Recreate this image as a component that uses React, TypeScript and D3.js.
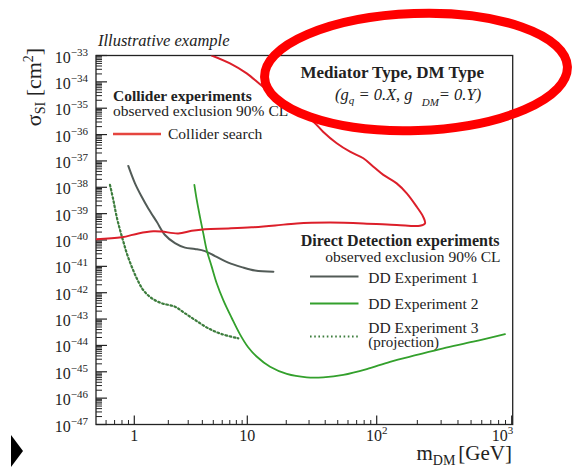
import React from "react";
import * as d3 from "d3";

// Collider search exclusion contour (mass in GeV, cross-section in cm^2)
const colliderMass = [0.5, 0.796, 1.085, 1.473, 1.748, 2.45, 3.22, 4.22, 6.79, 10.8, 16.4, 24.1, 43.6, 78.8, 140.6, 209, 228, 221, 198, 167, 140.6, 112, 94.3, 78.8, 62.2, 49.1, 38.5, 32.4, 24.2, 17.9, 13.2, 9.88, 7.03, 4.84];
const colliderSigma = [1.07e-40, 1.26e-40, 1.78e-40, 2.14e-40, 2.09e-40, 1.78e-40, 2.24e-40, 2.57e-40, 2.75e-40, 3.02e-40, 3.55e-40, 4.27e-40, 4.57e-40, 4.27e-40, 3.72e-40, 3.47e-40, 4.27e-40, 7.59e-40, 1.82e-39, 5.89e-39, 1.41e-38, 2.95e-38, 6.03e-38, 1.26e-37, 2.24e-37, 4.68e-37, 1.29e-36, 3.09e-36, 8.51e-36, 2.45e-35, 6.61e-35, 2.09e-34, 5.01e-34, 1.0e-33];

// DD Experiment 1
const dd1Mass = [0.897, 1.014, 1.163, 1.33, 1.58, 1.87, 2.29, 2.81, 3.44, 4.22, 5.18, 6.79, 8.92, 11.47, 15.9];
const dd1Sigma = [6.46e-38, 1.41e-38, 4.37e-39, 1.58e-39, 4.9e-40, 1.55e-40, 7.59e-41, 5.13e-41, 4.57e-41, 3.8e-41, 2.45e-41, 1.38e-41, 9.33e-42, 6.92e-42, 6.31e-42];

// DD Experiment 2
const dd2Mass = [3.4, 3.57, 3.81, 4.08, 4.37, 4.84, 5.36, 6.13, 7.28, 8.62, 10.12, 11.8, 15.0, 20.2, 28.8, 38.6, 55.2, 83.8, 125.5, 198, 311, 519, 892];
const dd2Sigma = [1.23e-38, 3.31e-39, 7.59e-40, 1.78e-40, 4.17e-41, 9.77e-42, 2.29e-42, 5.25e-43, 1.1e-43, 2.63e-44, 8.71e-45, 3.8e-45, 1.55e-45, 8.32e-46, 6.17e-46, 6.17e-46, 7.59e-46, 1.26e-45, 2.4e-45, 4.37e-45, 7.76e-45, 1.38e-44, 2.69e-44];

// DD Experiment 3 (projection)
const dd3Mass = [0.644, 0.684, 0.727, 0.772, 0.82, 0.872, 0.954, 1.05, 1.2, 1.426, 1.748, 2.29, 2.81, 3.44, 4.52, 5.94, 8.32];
const dd3Sigma = [1.23e-38, 3.31e-39, 7.59e-40, 2.4e-40, 8.71e-41, 3.16e-41, 9.77e-42, 3.55e-42, 1.26e-42, 6.17e-43, 3.98e-43, 2.95e-43, 1.66e-43, 9.33e-44, 4.47e-44, 2.69e-44, 1.86e-44];

// Axis ticks
const yExponents = d3.range(-47, -32);
const xMajor = [1, 10, 100, 1000];
const xMajorLabels = [["1", ""], ["10", ""], ["10", "2"], ["10", "3"]];
const xMinor = [0.6, 0.7, 0.8, 0.9, 2, 3, 4, 5, 6, 7, 8, 9, 20, 30, 40, 50, 60, 70, 80, 90, 200, 300, 400, 500, 600, 700, 800, 900];

const RED = "#dc1f2a";
const GREY = "#525b57";
const GREEN = "#33a02c";
const DOTGREEN = "#3d7d3d";
const SERIF = "'Liberation Serif', 'Times New Roman', serif";

const left = 96, right = 512.7, top = 55.5, bottom = 424.5;

const x = d3.scaleLog().domain([0.5, 1, 10, 100, 1000]).range([left, 134.3, 247.3, 376.7, 511.7]);
const y = d3.scaleLog().domain([1e-47, 1e-33]).range([bottom, top]);

type Pt = { m: number; s: number };
const zip = (ms: number[], ss: number[]): Pt[] => ms.map((m, i) => ({ m, s: ss[i] }));

const line = d3
  .line<Pt>()
  .x((d) => x(d.m))
  .y((d) => y(d.s))
  .curve(d3.curveCatmullRom.alpha(0.5));

export default function App() {
  const yMinor: number[] = [];
  for (let e = -47; e < -33; e++) {
    for (let k = 2; k <= 9; k++) yMinor.push(k * Math.pow(10, e));
  }

  return (
    <svg
      width={572}
      height={474}
      style={{ position: "fixed", left: 0, top: 0, background: "#fff" }}
      fontFamily={SERIF}
    >
      <defs>
        <clipPath id="plot">
          <rect x={left} y={top} width={right - left} height={bottom - top} />
        </clipPath>
      </defs>

      {/* frame */}
      <rect x={left} y={top} width={right - left} height={bottom - top} fill="none" stroke="#222" strokeWidth={1.3} />

      {/* y ticks */}
      {yExponents.map((e) => (
        <line key={"ym" + e} x1={left} x2={left + 11} y1={y(Math.pow(10, e))} y2={y(Math.pow(10, e))} stroke="#222" strokeWidth={1.2} />
      ))}
      {yMinor.map((v, i) => (
        <line key={"yn" + i} x1={left} x2={left + 6} y1={y(v)} y2={y(v)} stroke="#222" strokeWidth={1} />
      ))}
      {yExponents.map((e) => (
        <text key={"yl" + e} x={88} y={y(Math.pow(10, e)) + 7} textAnchor="end" fontSize={16} fill="#222">
          10
          <tspan dy={-7} fontSize={11}>
            {"\u2212" + Math.abs(e)}
          </tspan>
        </text>
      ))}

      {/* x ticks */}
      {xMajor.map((v) => (
        <line key={"xm" + v} x1={x(v)} x2={x(v)} y1={bottom} y2={bottom - 9} stroke="#222" strokeWidth={1.2} />
      ))}
      {xMinor.map((v) => (
        <line key={"xn" + v} x1={x(v)} x2={x(v)} y1={bottom} y2={bottom - 4.5} stroke="#222" strokeWidth={1} />
      ))}
      {xMajor.map((v, i) => {
        const last = i === xMajor.length - 1;
        return (
          <text
            key={"xl" + v}
            x={last ? x(v) + 1.5 : x(v)}
            y={441}
            textAnchor={last ? "end" : "middle"}
            fontSize={16}
            fill="#222"
          >
            {xMajorLabels[i][0]}
            {xMajorLabels[i][1] && (
              <tspan dy={-7} fontSize={11}>
                {xMajorLabels[i][1]}
              </tspan>
            )}
          </text>
        );
      })}

      {/* axis titles */}
      <text transform="translate(41,87) rotate(-90)" textAnchor="middle" fontSize={22} fill="#222">
        σ
        <tspan fontSize={14} dy={4}>SI</tspan>
        <tspan dy={-4}> [cm</tspan>
        <tspan fontSize={14} dy={-8}>2</tspan>
        <tspan dy={8}>]</tspan>
      </text>
      <text x={512} y={460} textAnchor="end" fontSize={21} fill="#222">
        m
        <tspan fontSize={14} dy={5}>DM</tspan>
        <tspan dy={-5} dx={3}>[GeV]</tspan>
      </text>

      <text x={98} y={46} fontSize={16.5} fontStyle="italic" fill="#222">
        Illustrative example
      </text>

      {/* curves */}
      <g clipPath="url(#plot)" fill="none" strokeLinejoin="round" strokeLinecap="round">
        <path d={line(zip(dd3Mass, dd3Sigma)) ?? ""} stroke={DOTGREEN} strokeWidth={2.2} strokeDasharray="1.6,2.6" />
        <path d={line(zip(dd1Mass, dd1Sigma)) ?? ""} stroke={GREY} strokeWidth={2} />
        <path d={line(zip(dd2Mass, dd2Sigma)) ?? ""} stroke={GREEN} strokeWidth={1.8} />
        <path d={line(zip(colliderMass, colliderSigma)) ?? ""} stroke={RED} strokeWidth={2} />
      </g>

      {/* collider legend */}
      <text x={113} y={100.5} fontSize={15.5} fontWeight="bold" fill="#222">
        Collider experiments
      </text>
      <text x={113} y={116} fontSize={15.5} fill="#222">
        observed exclusion 90% CL
      </text>
      <line x1={113} x2={161} y1={134} y2={134} stroke="#e5453f" strokeWidth={2.5} />
      <text x={168} y={139} fontSize={15.5} fill="#222">
        Collider search
      </text>

      {/* direct detection legend */}
      <text x={499.5} y={246} fontSize={16} fontWeight="bold" textAnchor="end" fill="#222">
        Direct Detection experiments
      </text>
      <text x={500.5} y={261.5} fontSize={15.5} textAnchor="end" fill="#222">
        observed exclusion 90% CL
      </text>
      <line x1={310} x2={358.5} y1={276.5} y2={276.5} stroke={GREY} strokeWidth={2} />
      <text x={368.3} y={282.5} fontSize={15.5} fill="#222">DD Experiment 1</text>
      <line x1={310} x2={358.5} y1={303.5} y2={303.5} stroke={GREEN} strokeWidth={2} />
      <text x={368.3} y={308.5} fontSize={15.5} fill="#222">DD Experiment 2</text>
      <line x1={310} x2={358.5} y1={336.5} y2={336.5} stroke={DOTGREEN} strokeWidth={2.2} strokeDasharray="1.6,2.6" />
      <text x={368.3} y={332.5} fontSize={15.5} fill="#222">DD Experiment 3</text>
      <text x={368.3} y={346.5} fontSize={15} fill="#222">(projection)</text>

      {/* model label */}
      <text x={300.5} y={77.5} fontSize={17} fontWeight="bold" fill="#222">
        Mediator Type, DM Type
      </text>
      <text x={335} y={100} fontSize={16.5} fontStyle="italic" fill="#222">
        (g
        <tspan fontSize={11} dy={4}>q</tspan>
        <tspan dy={-4}> = 0.X, g </tspan>
        <tspan fontSize={11} dy={6} dx={5}>DM</tspan>
        <tspan dy={-6}>= 0.Y)</tspan>
      </text>

      {/* highlight ring */}
      <ellipse cx={416} cy={72} rx={151.5} ry={58.5} fill="none" stroke="#ff0000" strokeWidth={9} transform="rotate(-2 416 72)" />

      {/* navigation marker */}
      <path d="M11,435 L23,451 L11,467 Z" fill="#000" />
    </svg>
  );
}
